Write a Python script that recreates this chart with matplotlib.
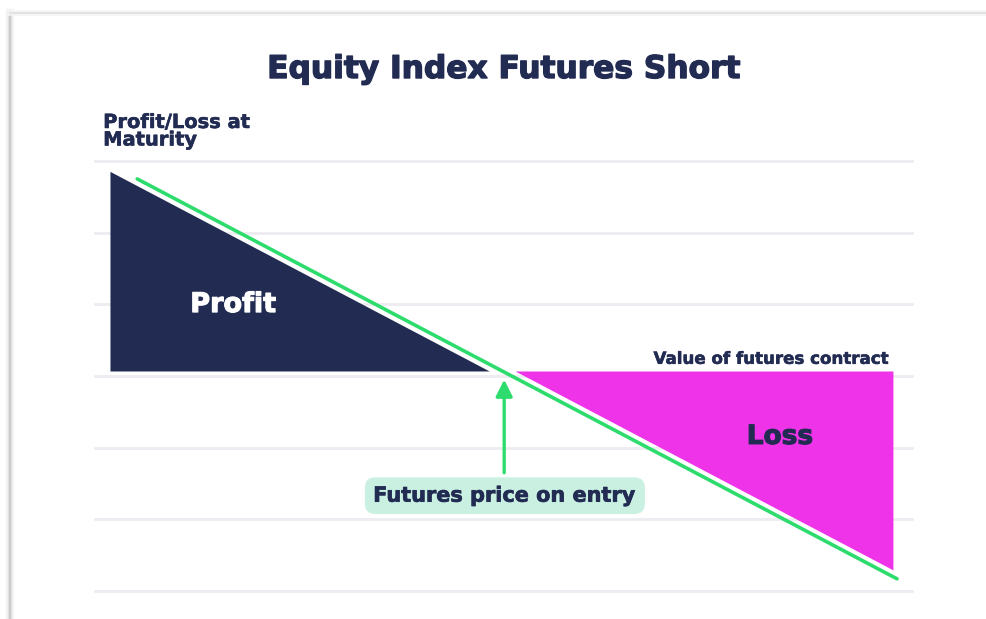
import numpy as np
import matplotlib
matplotlib.use("Agg")
import matplotlib.pyplot as plt
from matplotlib.lines import Line2D
import matplotlib.patheffects as pe

# ---------------- data ----------------
title = "Equity Index Futures Short"
y_label = "Profit/Loss at\nMaturity"
x_label = "Value of futures contract"
entry_label = "Futures price on entry"
profit_label = "Profit"
loss_label = "Loss"

entry_price = 0.0                      # futures price at entry (relative units)
line_values = [-2.68, 2.90]            # futures value range of the payoff line
profit_values = [-2.88, -0.095]        # futures values covered by the profit area
loss_values = [0.095, 2.87]            # futures values covered by the loss area
grid_levels = [-3.07, -2.07, -1.07, -0.07, 0.93, 1.93, 2.93]

# ---------------- style ----------------
NAVY = "#222b52"
MAGENTA = "#ee33e9"
GREEN = "#2edc6e"
MINT = "#c9f0e1"
GRID = "#ececf1"
FONT = "DejaVu Sans"
GAP = 0.095

def payoff(v):
    return entry_price - np.asarray(v, dtype=float)

def heavy(color, w=0.7):
    return [pe.withStroke(linewidth=w, foreground=color)]

W, H = 986, 619
fig = plt.figure(figsize=(W / 100, H / 100), dpi=100)
fig.patch.set_facecolor("white")

# card shadow (left and top edges)
for lw, col in [(6, "#f3f3f3"), (3, "#e0e0e0"), (1.2, "#c8c8c8")]:
    fig.add_artist(Line2D([10 / W, 10 / W], [0, 1 - 13 / H], color=col, lw=lw,
                          transform=fig.transFigure, zorder=0))
for lw, col in [(4, "#f5f5f5"), (1.5, "#e2e2e2")]:
    fig.add_artist(Line2D([10 / W, 1], [1 - 13 / H, 1 - 13 / H], color=col, lw=lw,
                          transform=fig.transFigure, zorder=0))

ax = fig.add_axes([95 / W, 1 - 591 / H, 817 / W, 430 / H])
ax.set_xlim(-2.99, 3.01)
ax.set_ylim(-3.07, 2.93)
ax.set_facecolor("none")
for s in ax.spines.values():
    s.set_visible(False)
ax.set_xticks([])
ax.set_yticks([])
for g in grid_levels:
    ax.axhline(g, color=GRID, lw=2, zorder=1, clip_on=False)

# profit area (navy)
pv = np.array(profit_values)
ax.fill_between(pv, 0, payoff(pv) - GAP, color=NAVY, lw=0, zorder=2)
# loss area (magenta)
lv = np.array(loss_values)
ax.fill_between(lv, payoff(lv) + GAP, 0, color=MAGENTA, lw=0, zorder=2)

# payoff line
xv = np.array(line_values)
ax.plot(xv, payoff(xv), color=GREEN, lw=2.6, solid_capstyle="round", zorder=3)

# arrow to entry price
ax.annotate("", xy=(entry_price + 0.015, -0.12), xytext=(entry_price + 0.015, -1.42),
            arrowprops=dict(arrowstyle="-|>,head_length=1.0,head_width=0.5",
                            color=GREEN, lw=2.4, shrinkA=0, shrinkB=0), zorder=4)

# labels
ax.text(entry_price + 0.02, -1.74, entry_label, ha="center", va="center",
        fontsize=15, fontweight="bold", color=NAVY, family=FONT, zorder=5,
        path_effects=heavy(NAVY, 0.5),
        bbox=dict(boxstyle="round,pad=0.40,rounding_size=0.5", fc=MINT, ec="none"))
ax.text(-1.975, 0.92, profit_label, ha="center", va="center", fontsize=19.5,
        fontweight="bold", color="white", family=FONT, zorder=5,
        path_effects=heavy("white", 0.8))
ax.text(2.04, -0.92, loss_label, ha="center", va="center", fontsize=19,
        fontweight="bold", color=NAVY, family=FONT, zorder=5,
        path_effects=heavy(NAVY, 0.8))
ax.text(2.834, 0.10, x_label, ha="right", va="baseline", fontsize=12,
        fontweight="bold", color=NAVY, family=FONT, zorder=5, clip_on=False,
        path_effects=heavy(NAVY, 0.4))
ax.text(-2.93, 3.60, y_label, ha="left", va="top", fontsize=14, linespacing=0.9,
        fontweight="bold", color=NAVY, family=FONT, zorder=5, clip_on=False,
        path_effects=heavy(NAVY, 0.4))

fig.text(504 / W, 1 - 78 / H, title, ha="center", va="baseline", fontsize=22.5,
         fontweight="bold", color=NAVY, family=FONT, path_effects=heavy(NAVY, 1.0))

fig.savefig("out.png", dpi=100, facecolor="white")
